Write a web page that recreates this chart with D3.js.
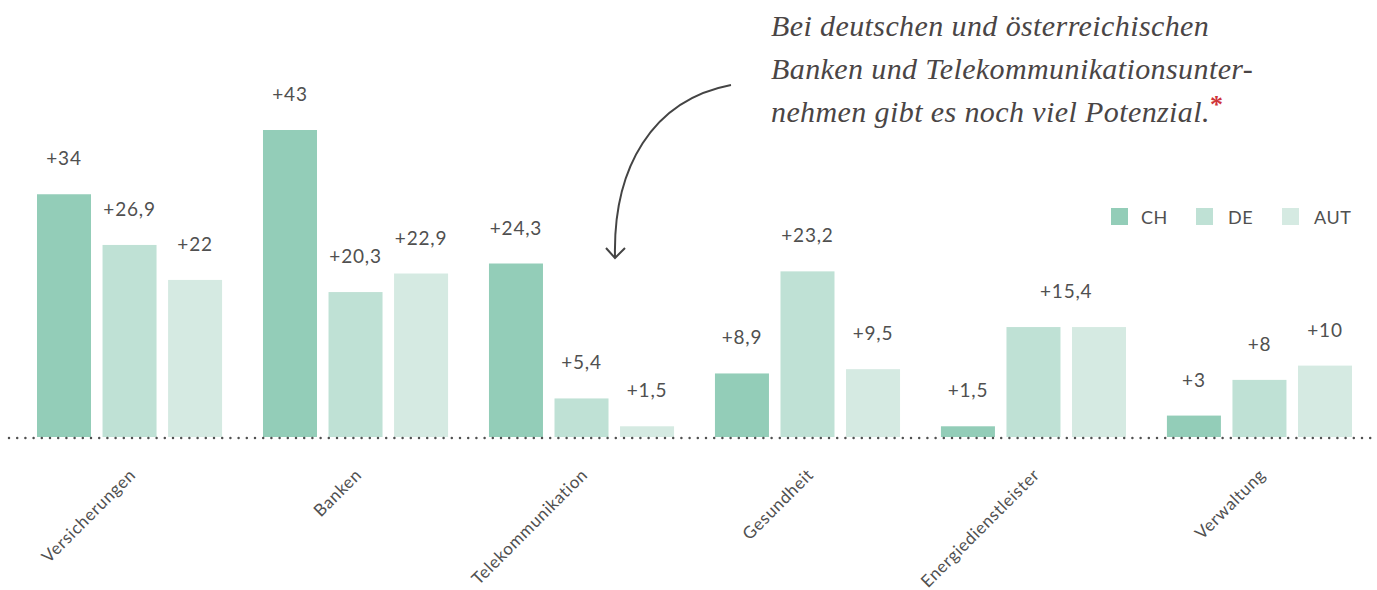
<!DOCTYPE html>
<html>
<head>
<meta charset="utf-8">
<script src="https://cdn.jsdelivr.net/npm/d3@7"></script>
<style>
  body { margin: 0; background: #fff; }
  text { font-family: "Lato", "Noto Sans", sans-serif; fill: #505050; font-weight: 400; }
</style>
</head>
<body>
<div id="container"></div>
<script>
/* DATA */
const categories = ["Versicherungen", "Banken", "Telekommunikation", "Gesundheit", "Energiedienstleister", "Verwaltung"];
const seriesKeys = ["CH", "DE", "AUT"];
const chValues = [34, 43, 24.3, 8.9, 1.5, 3];
const deValues = [26.9, 20.3, 5.4, 23.2, 15.4, 8];
const autValues = [22, 22.9, 1.5, 9.5, 15.4, 10];
const colors = ["#93cdb8", "#bfe1d5", "#d5eae2"];

const annotationLines = [
  "Bei deutschen und österreichischen",
  "Banken und Telekommunikationsunter-",
  "nehmen gibt es noch viel Potenzial."
];

/* CONSTANTS */
const W = 1377, H = 590;
const baseY = 437;

const rows = categories.map((c, i) => ({
  cat: c,
  vals: [chValues[i], deValues[i], autValues[i]]
}));

const svg = d3.select("#container")
  .append("svg")
    .attr("width", W)
    .attr("height", H);

/* SCALES */
const x0 = d3.scaleBand()
  .domain(categories)
  .range([37, 1352])
  .paddingInner(0.181);

const x1 = d3.scaleBand()
  .domain(seriesKeys)
  .range([0, x0.bandwidth()])
  .paddingInner(0.176);

const y = d3.scaleLinear()
  .domain([0, 43])
  .range([baseY, 130]);

const color = d3.scaleOrdinal().domain(seriesKeys).range(colors);

const de = d3.formatLocale({decimal: ",", thousands: ".", grouping: [3], currency: ["", " €"]});
const fmt = de.format("+");

/* BARS */
const groups = svg.selectAll("g.group")
  .data(rows)
  .join("g")
    .attr("class", "group")
    .attr("transform", d => "translate(" + x0(d.cat) + ",0)");

groups.selectAll("rect")
  .data(d => d.vals.map((v, j) => ({key: seriesKeys[j], v: v})))
  .join("rect")
    .attr("x", d => x1(d.key))
    .attr("y", d => y(d.v))
    .attr("width", x1.bandwidth())
    .attr("height", d => baseY - y(d.v))
    .attr("fill", d => color(d.key));

// value labels; DE and AUT share one label when equal
groups.each(function(d) {
  const g = d3.select(this);
  const labels = [];
  labels.push({v: d.vals[0], cx: x1("CH") + x1.bandwidth() / 2});
  if (d.vals[1] === d.vals[2]) {
    labels.push({v: d.vals[1], cx: (x1("DE") + x1("AUT") + x1.bandwidth()) / 2});
  } else {
    labels.push({v: d.vals[1], cx: x1("DE") + x1.bandwidth() / 2});
    labels.push({v: d.vals[2], cx: x1("AUT") + x1.bandwidth() / 2});
  }
  g.selectAll("text.val")
    .data(labels)
    .join("text")
      .attr("class", "val")
      .attr("x", l => l.cx)
      .attr("y", l => y(l.v) - 29)
      .attr("text-anchor", "middle")
      .style("font-size", "19px")
      .style("letter-spacing", "0.8px")
      .text(l => fmt(l.v));
});

/* DOTTED BASELINE */
svg.append("line")
  .attr("x1", 9)
  .attr("x2", W)
  .attr("y1", baseY + 1)
  .attr("y2", baseY + 1)
  .attr("stroke", "#505050")
  .attr("stroke-width", 2.5)
  .attr("stroke-linecap", "round")
  .attr("stroke-dasharray", "0 8.2");

/* CATEGORY LABELS */
svg.selectAll("text.cat")
  .data(categories)
  .join("text")
    .attr("class", "cat")
    .attr("transform", d => "translate(" + (x0(d) + x0.bandwidth() / 2 + 7) + "," + 476 + ") rotate(-45)")
    .attr("text-anchor", "end")
    .style("font-size", "17px")
    .style("letter-spacing", "0.6px")
    .text(d => d);

/* LEGEND */
const legendX = [1111, 1196, 1282];
const legend = svg.selectAll("g.legend")
  .data(seriesKeys)
  .join("g")
    .attr("class", "legend")
    .attr("transform", (d, i) => "translate(" + legendX[i] + ",208)");
legend.append("rect")
  .attr("width", 17)
  .attr("height", 17)
  .attr("fill", d => color(d));
legend.append("text")
  .attr("x", d => d === "CH" ? 30 : 32)
  .attr("y", 16)
  .style("font-size", "18px")
  .style("letter-spacing", "0.5px")
  .text(d => d);

/* ANNOTATION */
const ann = svg.append("g");
ann.selectAll("text")
  .data(annotationLines)
  .join("text")
    .attr("x", 771)
    .attr("y", (d, i) => 36 + i * 43)
    .style("font-family", "'Liberation Serif', 'DejaVu Serif', serif")
    .style("font-style", "italic")
    .style("font-weight", "normal")
    .style("font-size", "30px")
    .style("letter-spacing", "0.4px")
    .style("fill", "#4a4545")
    .text(d => d)
    .each(function(d, i) {
      if (i === annotationLines.length - 1) {
        const bb = this.getBBox();
        ann.append("text")
          .attr("x", bb.x + bb.width)
          .attr("y", 36 + i * 43 - 9)
          .style("font-family", "'Liberation Serif', serif")
          .style("font-size", "26px")
          .style("font-weight", "bold")
          .style("fill", "#d0343a")
          .text("*");
      }
    });

/* ARROW */
svg.append("path")
  .attr("d", "M731,85 C652,100 613,168 615,257")
  .attr("fill", "none")
  .attr("stroke", "#444")
  .attr("stroke-width", 2);
svg.append("path")
  .attr("d", "M606,248 L615,258 L625,248")
  .attr("fill", "none")
  .attr("stroke", "#444")
  .attr("stroke-width", 2);
</script>
</body>
</html>
